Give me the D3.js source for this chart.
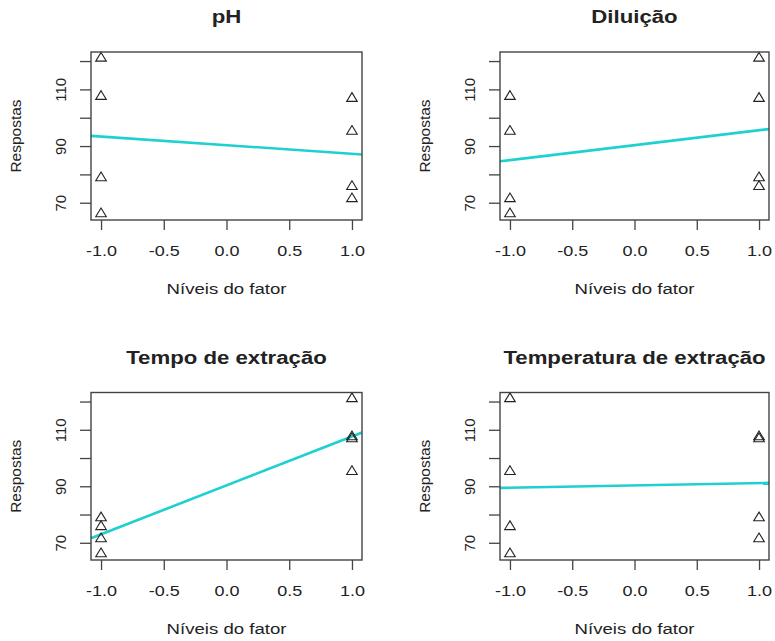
<!DOCTYPE html>
<html>
<head>
<meta charset="utf-8">
<script src="https://cdn.jsdelivr.net/npm/d3@7"></script>
<style>
  body { margin: 0; background: #fff; }
  text { font-family: "Liberation Sans", Arial, sans-serif; fill: #222; }
</style>
</head>
<body>
<div id="chart"></div>
<script>
// 2^(4-1) design: responses and factor levels per run
const respostas = [121, 107.5, 106.8, 95.2, 78.8, 75.7, 71.4, 66.1];
const ph = [-1, -1, 1, 1, -1, 1, 1, -1];
const diluicao = [1, -1, 1, -1, 1, 1, -1, -1];
const tempo = [1, 1, 1, 1, -1, -1, -1, -1];
const temperatura = [-1, 1, 1, -1, 1, -1, 1, -1];
const titulos = ['pH', 'Diluição', 'Tempo de extração', 'Temperatura de extração'];
const xTicks = [-1, -0.5, 0, 0.5, 1];
const xTickLabels = ['-1.0', '-0.5', '0.0', '0.5', '1.0'];
const yTicks = [70, 80, 90, 100, 110, 120];
const yTickLabels = [70, 90, 110];

const niveis = [ph, diluicao, tempo, temperatura];

const width = 775, height = 641;
const SX = 1.2; // the reference is stretched horizontally

const svg = d3.select('#chart').append('svg')
  .attr('width', width)
  .attr('height', height);

// plot boxes in page pixels
const boxes = [
  { left: 91, right: 362, top: 52, bottom: 220 },
  { left: 500, right: 769, top: 52, bottom: 220 },
  { left: 91, right: 362, top: 392.5, bottom: 560 },
  { left: 500, right: 769, top: 392.5, bottom: 560 }
];

// R style 4% extension
const ext = (lo, hi) => { const r = hi - lo; return [lo - 0.04 * r, hi + 0.04 * r]; };
const yDomain = ext(d3.min(respostas), d3.max(respostas));
const xDomain = ext(-1, 1);

const tri = (x, y) => `M${x},${y - 5.8}L${x + 5.3},${y + 2.9}L${x - 5.3},${y + 2.9}Z`;

boxes.forEach((b, i) => {
  const lv = niveis[i];
  const x = d3.scaleLinear().domain(xDomain).range([b.left, b.right]);
  const y = d3.scaleLinear().domain(yDomain).range([b.bottom, b.top]);
  const g = svg.append('g');
  const cx = (b.left + b.right) / 2;

  // title
  g.append('text')
    .attr('transform', `translate(${cx},${b.top - 29}) scale(${SX},1)`)
    .attr('text-anchor', 'middle')
    .style('font-size', '18.5px')
    .style('font-weight', 'bold')
    .text(titulos[i]);

  // main effect line (least squares through level means)
  const mLo = d3.mean(respostas.filter((d, k) => lv[k] === -1));
  const mHi = d3.mean(respostas.filter((d, k) => lv[k] === 1));
  const slope = (mHi - mLo) / 2, icpt = (mHi + mLo) / 2;
  const clipId = 'clip' + i;
  g.append('clipPath').attr('id', clipId)
    .append('rect')
    .attr('x', b.left).attr('y', b.top)
    .attr('width', b.right - b.left).attr('height', b.bottom - b.top);
  g.append('line')
    .attr('clip-path', `url(#${clipId})`)
    .attr('x1', x(xDomain[0])).attr('y1', y(icpt + slope * xDomain[0]))
    .attr('x2', x(xDomain[1])).attr('y2', y(icpt + slope * xDomain[1]))
    .attr('stroke', '#1fd0d0')
    .attr('stroke-width', 2.6);

  // points
  g.selectAll('.pt')
    .data(respostas)
    .enter()
    .append('path')
    .attr('class', 'pt')
    .attr('d', (d, k) => tri(x(lv[k]), y(d)))
    .attr('fill', 'none')
    .attr('stroke', '#222')
    .attr('stroke-width', 1.1);

  // box
  g.append('rect')
    .attr('x', b.left).attr('y', b.top)
    .attr('width', b.right - b.left).attr('height', b.bottom - b.top)
    .attr('fill', 'none')
    .attr('stroke', '#444')
    .attr('stroke-width', 1.4);

  // x axis
  const xAxis = g.append('g').attr('transform', `translate(0,${b.bottom})`)
    .call(d3.axisBottom(x).tickValues(xTicks).tickSize(10).tickFormat((d, k) => xTickLabels[k]));
  xAxis.select('.domain').remove();
  xAxis.selectAll('line').attr('stroke', '#444').attr('stroke-width', 1.3);
  xAxis.selectAll('text')
    .attr('y', 0).attr('dy', null)
    .attr('transform', d => `translate(${x(d) - x(d)},36) scale(${SX},1)`)
    .style('font-size', '15px')
    .style('fill', '#222');

  // y axis
  const yAxis = g.append('g').attr('transform', `translate(${b.left},0)`)
    .call(d3.axisLeft(y).tickValues(yTicks).tickSize(11)
      .tickFormat(d => yTickLabels.includes(d) ? d : ''));
  yAxis.select('.domain').remove();
  yAxis.selectAll('line').attr('stroke', '#444').attr('stroke-width', 1.3);
  yAxis.selectAll('text')
    .attr('x', 0).attr('dy', null)
    .attr('transform', 'translate(-25,0) rotate(-90)')
    .attr('text-anchor', 'middle')
    .style('font-size', '15px')
    .style('fill', '#222');

  // axis titles
  g.append('text')
    .attr('transform', `translate(${cx},${b.bottom + 74}) scale(${SX},1)`)
    .attr('text-anchor', 'middle')
    .style('font-size', '15.5px')
    .text('Níveis do fator');

  g.append('text')
    .attr('transform', `translate(${b.left - 70},${(b.top + b.bottom) / 2}) rotate(-90)`)
    .attr('text-anchor', 'middle')
    .style('font-size', '15.5px')
    .text('Respostas');
});
</script>
</body>
</html>
